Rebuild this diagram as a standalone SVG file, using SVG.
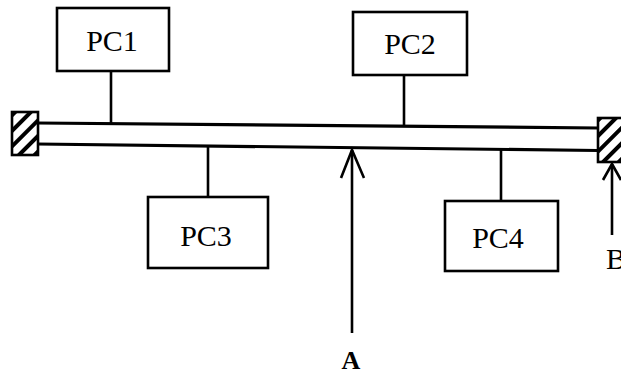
<svg xmlns="http://www.w3.org/2000/svg" width="621" height="376" viewBox="0 0 621 376">
<defs>
<pattern id="hatch" patternUnits="userSpaceOnUse" width="11" height="11" patternTransform="rotate(45)">
<rect width="11" height="11" fill="#fff"/>
<rect x="0" y="0" width="4" height="11" fill="#000"/>
</pattern>
</defs>
<style>
.box{fill:#fff;stroke:#000;stroke-width:2.6}
.ln{stroke:#000;stroke-width:2.6;fill:none;stroke-linecap:butt}
.bus{stroke:#000;stroke-width:3.2;fill:none}
.term{fill:url(#hatch);stroke:#000;stroke-width:2.6}
.lbl{font-family:"Liberation Serif",serif;font-size:30px;fill:#000;text-anchor:middle}
.big{font-family:"Liberation Serif",serif;font-size:26px;font-weight:bold;fill:#000;text-anchor:middle}
</style>
<g id="bus">
<line class="bus" x1="37" y1="123" x2="598" y2="128"/>
<line class="bus" x1="37" y1="144" x2="598" y2="150.5"/>
</g>
<g id="terminatorLeft">
<rect class="term" x="12" y="112" width="26" height="43"/>
</g>
<g id="terminatorRight">
<rect class="term" x="598" y="118" width="26" height="44"/>
</g>
<g id="connectors">
<line class="ln" x1="111" y1="71" x2="111" y2="123.6"/>
<line class="ln" x1="404" y1="75" x2="404" y2="126.5"/>
<line class="ln" x1="208" y1="146" x2="208" y2="197"/>
<line class="ln" x1="501" y1="149.5" x2="501" y2="201"/>
</g>
<g id="PC1">
<rect class="box" x="57" y="8" width="112" height="63"/>
<text class="lbl" x="112" y="51">PC1</text>
</g>
<g id="PC2">
<rect class="box" x="353" y="12" width="114" height="63"/>
<text class="lbl" x="410" y="54">PC2</text>
</g>
<g id="PC3">
<rect class="box" x="148" y="197" width="120" height="71"/>
<text class="lbl" x="206" y="246">PC3</text>
</g>
<g id="PC4">
<rect class="box" x="445" y="201" width="113" height="70"/>
<text class="lbl" x="498" y="248">PC4</text>
</g>
<g id="arrowA">
<line class="ln" x1="352" y1="150" x2="352" y2="333"/>
<polyline class="ln" points="341,178 352,150 364,178"/>
<text class="big" x="351" y="369">A</text>
</g>
<g id="arrowB">
<line class="ln" x1="612" y1="164" x2="612" y2="235"/>
<polyline class="ln" points="603,180 612,164 621,180"/>
<text class="lbl" x="606" y="269" style="text-anchor:start">B</text>
</g>
</svg>
